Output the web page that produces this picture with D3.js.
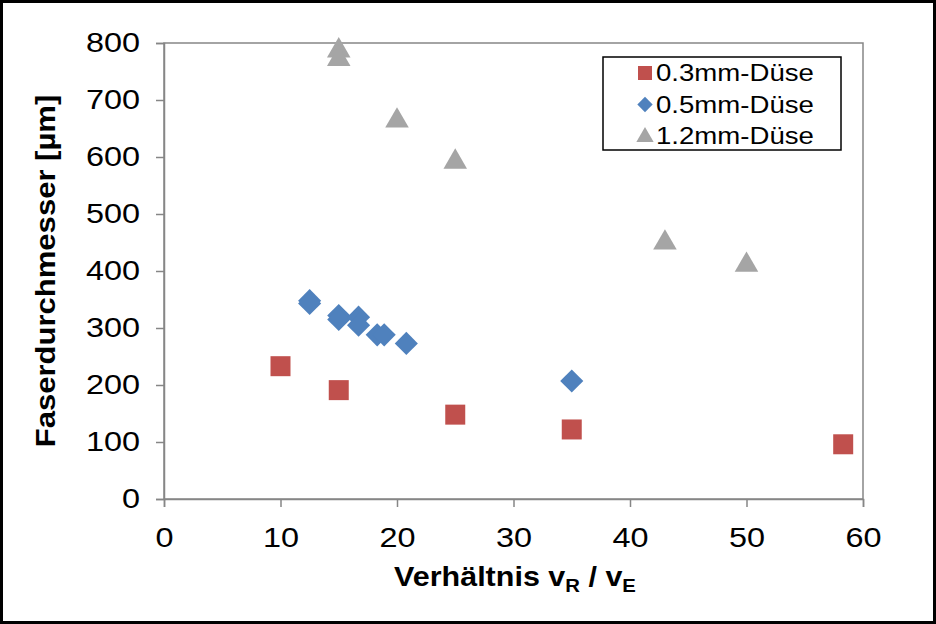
<!DOCTYPE html>
<html><head><meta charset="utf-8">
<script src="https://cdn.jsdelivr.net/npm/d3@7"></script>
<style>body{margin:0;background:#fff}svg{display:block}</style>
</head><body>
<svg id="c" width="936" height="624"></svg>
<script>
const xTicks = [0,10,20,30,40,50,60];
const yTicks = [0,100,200,300,400,500,600,700,800];
const seriesNames = ["0.3mm-Düse","0.5mm-Düse","1.2mm-Düse"];
const seriesColors = ["#C0504D","#4F81BD","#A5A5A5"];
const s03x = [10,15,25,35,58.3];
const s03y = [233,191,148,122,96];
const s05x = [12.5,12.5,15,15,16.7,16.7,18.3,18.9,20.8,35];
const s05y = [348,343,322,315,319,305,288,288,273,207];
const s12x = [15,15,20,25,43,50];
const s12y = [790,775,667,595,453,414];

const svg = d3.select("#c");
const font = "Liberation Sans, Arial, sans-serif";
const SX = 1.2;
svg.append("rect").attr("x",1.5).attr("y",1.5).attr("width",933).attr("height",621)
  .attr("fill","#fff").attr("stroke","#000").attr("stroke-width",3);

const L=164,R=863,T=43,B=499;
const x = d3.scaleLinear().domain([0,60]).range([L,R]);
const y = d3.scaleLinear().domain([0,800]).range([B,T]);

svg.append("rect").attr("x",L).attr("y",T).attr("width",R-L).attr("height",B-T)
  .attr("fill","none").attr("stroke","#868686").attr("stroke-width",1.5);

const xa = svg.append("g").attr("transform",`translate(0,${B})`)
  .call(d3.axisBottom(x).tickValues(xTicks).tickSize(8).tickPadding(14).tickFormat(d3.format("d")));
const ya = svg.append("g").attr("transform",`translate(${L},0)`)
  .call(d3.axisLeft(y).tickValues(yTicks).tickSize(8).tickPadding(16).tickFormat(d3.format("d")));
[xa,ya].forEach(a=>{
  a.selectAll("path").attr("stroke","#868686").attr("stroke-width",1.5);
  a.selectAll("line").attr("stroke","#868686").attr("stroke-width",1.5);
  a.selectAll("text").attr("font-family",font).attr("font-size",27).attr("fill","#000");
});
xa.selectAll("text").attr("dy","0.95em").attr("y",0).attr("transform",`translate(0,22) scale(${SX},1)`);
ya.selectAll("text").attr("x",0).attr("transform",`translate(-24,0) scale(${SX},1)`);

const sq = d3.symbol().type(d3.symbolSquare).size(400);
const di = d3.symbol().type(d3.symbolDiamond2).size(340);
const tr = d3.symbol().type(d3.symbolTriangle).size(240);

function pts(xs,ys){return xs.map((v,i)=>[v,ys[i]]);}
svg.append("g").selectAll("path").data(pts(s03x,s03y)).join("path")
  .attr("d",sq).attr("fill",seriesColors[0])
  .attr("transform",d=>`translate(${x(d[0])},${y(d[1])})`);
svg.append("g").selectAll("path").data(pts(s05x,s05y)).join("path")
  .attr("d",di).attr("fill",seriesColors[1])
  .attr("transform",d=>`translate(${x(d[0])},${y(d[1])})`);
svg.append("g").selectAll("path").data(pts(s12x,s12y)).join("path")
  .attr("d",tr).attr("fill",seriesColors[2])
  .attr("transform",d=>`translate(${x(d[0])},${y(d[1])+2})`);

// legend
const lg = svg.append("g");
lg.append("rect").attr("x",603).attr("y",57).attr("width",238).attr("height",93)
  .attr("fill","#fff").attr("stroke","#000").attr("stroke-width",1.5);
const legSyms=[d3.symbol().type(d3.symbolSquare).size(196),d3.symbol().type(d3.symbolDiamond2).size(150),d3.symbol().type(d3.symbolTriangle).size(130)];
seriesNames.forEach((n,i)=>{
  const cy = 73 + i*31.5;
  lg.append("path").attr("d",legSyms[i]).attr("fill",seriesColors[i])
    .attr("transform",`translate(645,${cy + (i==2?1:0)})`);
  lg.append("text").attr("transform",`translate(656,${cy}) scale(${SX},1)`).attr("dy","0.36em")
    .attr("font-family",font).attr("font-size",23).attr("fill","#000").text(n);
});

// axis titles
const xt = svg.append("text").attr("transform",`translate(515,586) scale(1.13,1)`).attr("text-anchor","middle")
  .attr("font-family",font).attr("font-size",27).attr("font-weight","bold").attr("fill","#000");
xt.append("tspan").text("Verhältnis v");
xt.append("tspan").attr("font-size",18).attr("dy",6).text("R");
xt.append("tspan").attr("dy",-6).text(" / v");
xt.append("tspan").attr("font-size",18).attr("dy",6).text("E");

svg.append("text").attr("transform","translate(55,271) rotate(-90) scale(1.15,1)").attr("text-anchor","middle")
  .attr("font-family",font).attr("font-size",27).attr("font-weight","bold").attr("fill","#000")
  .text("Faserdurchmesser [µm]");
</script>
</body></html>
